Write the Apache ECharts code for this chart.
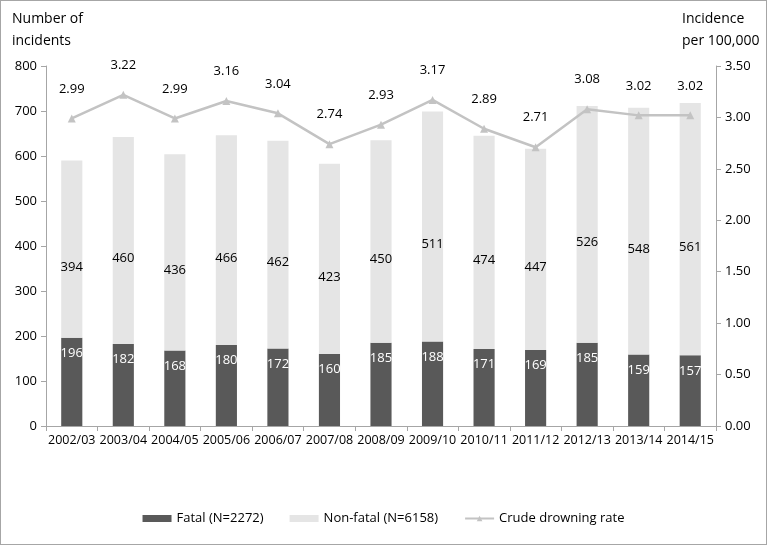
<!DOCTYPE html>
<html><head><meta charset="utf-8">
<script src="https://cdn.jsdelivr.net/npm/echarts@6/dist/echarts.min.js"></script>
<style>
html,body{margin:0;padding:0;background:#fff;}
#c{width:767px;height:545px;box-sizing:border-box;border:1px solid #a6a6a6;}
</style></head>
<body><div id="c"></div>
<script>
const categories = ['2002/03','2003/04','2004/05','2005/06','2006/07','2007/08','2008/09','2009/10','2010/11','2011/12','2012/13','2013/14','2014/15'];
const fatal = [196,182,168,180,172,160,185,188,171,169,185,159,157];
const nonFatal = [394,460,436,466,462,423,450,511,474,447,526,548,561];
const rate = [2.99,3.22,2.99,3.16,3.04,2.74,2.93,3.17,2.89,2.71,3.08,3.02,3.02];
const leftTicks = [0,100,200,300,400,500,600,700,800];
const rightTicks = [0,0.5,1,1.5,2,2.5,3,3.5];

const FONT = 'Open Sans';
const chart = echarts.init(document.getElementById('c'));
const axisGray = '#a6a6a6';
chart.setOption({
  animation:false,
  textStyle:{fontFamily:FONT},
  grid:{left:45,right:50,top:65,bottom:118},
  graphic:[
    {type:'text',left:11,top:7,style:{text:'Number of\nincidents',font:'14px "Open Sans"',fill:'#000',lineHeight:22}},
    {type:'text',left:681,top:7,style:{text:'Incidence\nper 100,000',font:'14px "Open Sans"',fill:'#000',lineHeight:22}}
  ],
  legend:{
    bottom:14,left:'center',itemGap:26,itemWidth:29,itemHeight:7,
    textStyle:{fontFamily:FONT,fontSize:13,color:'#000'},
    data:[{name:'Fatal (N=2272)',icon:'rect'},{name:'Non-fatal (N=6158)',icon:'rect'},{name:'Crude drowning rate'}]
  },
  xAxis:{
    type:'category',data:categories,
    axisLine:{lineStyle:{color:axisGray}},
    axisTick:{show:true,alignWithLabel:false,length:5,lineStyle:{color:axisGray}},
    axisLabel:{color:'#000',fontSize:12.5,fontFamily:FONT,margin:8,interval:0}
  },
  yAxis:[
    {type:'value',min:leftTicks[0],max:leftTicks[leftTicks.length-1],interval:100,
     axisLine:{show:true,lineStyle:{color:axisGray}},
     axisTick:{show:true,length:5,lineStyle:{color:axisGray}},
     splitLine:{show:false},
     axisLabel:{color:'#000',fontSize:13,fontFamily:FONT,margin:9}},
    {type:'value',min:rightTicks[0],max:rightTicks[rightTicks.length-1],interval:0.5,
     axisLine:{show:true,lineStyle:{color:axisGray}},
     axisTick:{show:true,length:5,lineStyle:{color:axisGray}},
     splitLine:{show:false},
     axisLabel:{color:'#000',fontSize:13,fontFamily:FONT,margin:9,formatter:v=>v.toFixed(2)}}
  ],
  series:[
    {name:'Fatal (N=2272)',type:'bar',stack:'a',data:fatal,barWidth:'41%',
     itemStyle:{color:'#595959'},
     label:{show:true,position:'insideTop',distance:9,color:'#fff',fontSize:13,fontFamily:FONT}},
    {name:'Non-fatal (N=6158)',type:'bar',stack:'a',data:nonFatal,barWidth:'41%',
     itemStyle:{color:'#e5e5e5'},
     label:{show:true,position:'inside',offset:[0,18],color:'#000',fontSize:13,fontFamily:FONT}},
    {name:'Crude drowning rate',type:'line',yAxisIndex:1,data:rate,
     symbol:'triangle',symbolSize:8,
     lineStyle:{color:'#c3c3c3',width:2.5},itemStyle:{color:'#c3c3c3'},
     label:{show:true,position:'top',distance:19,color:'#000',fontSize:13,fontFamily:FONT,formatter:p=>p.value.toFixed(2)}}
  ]
});
</script></body></html>
